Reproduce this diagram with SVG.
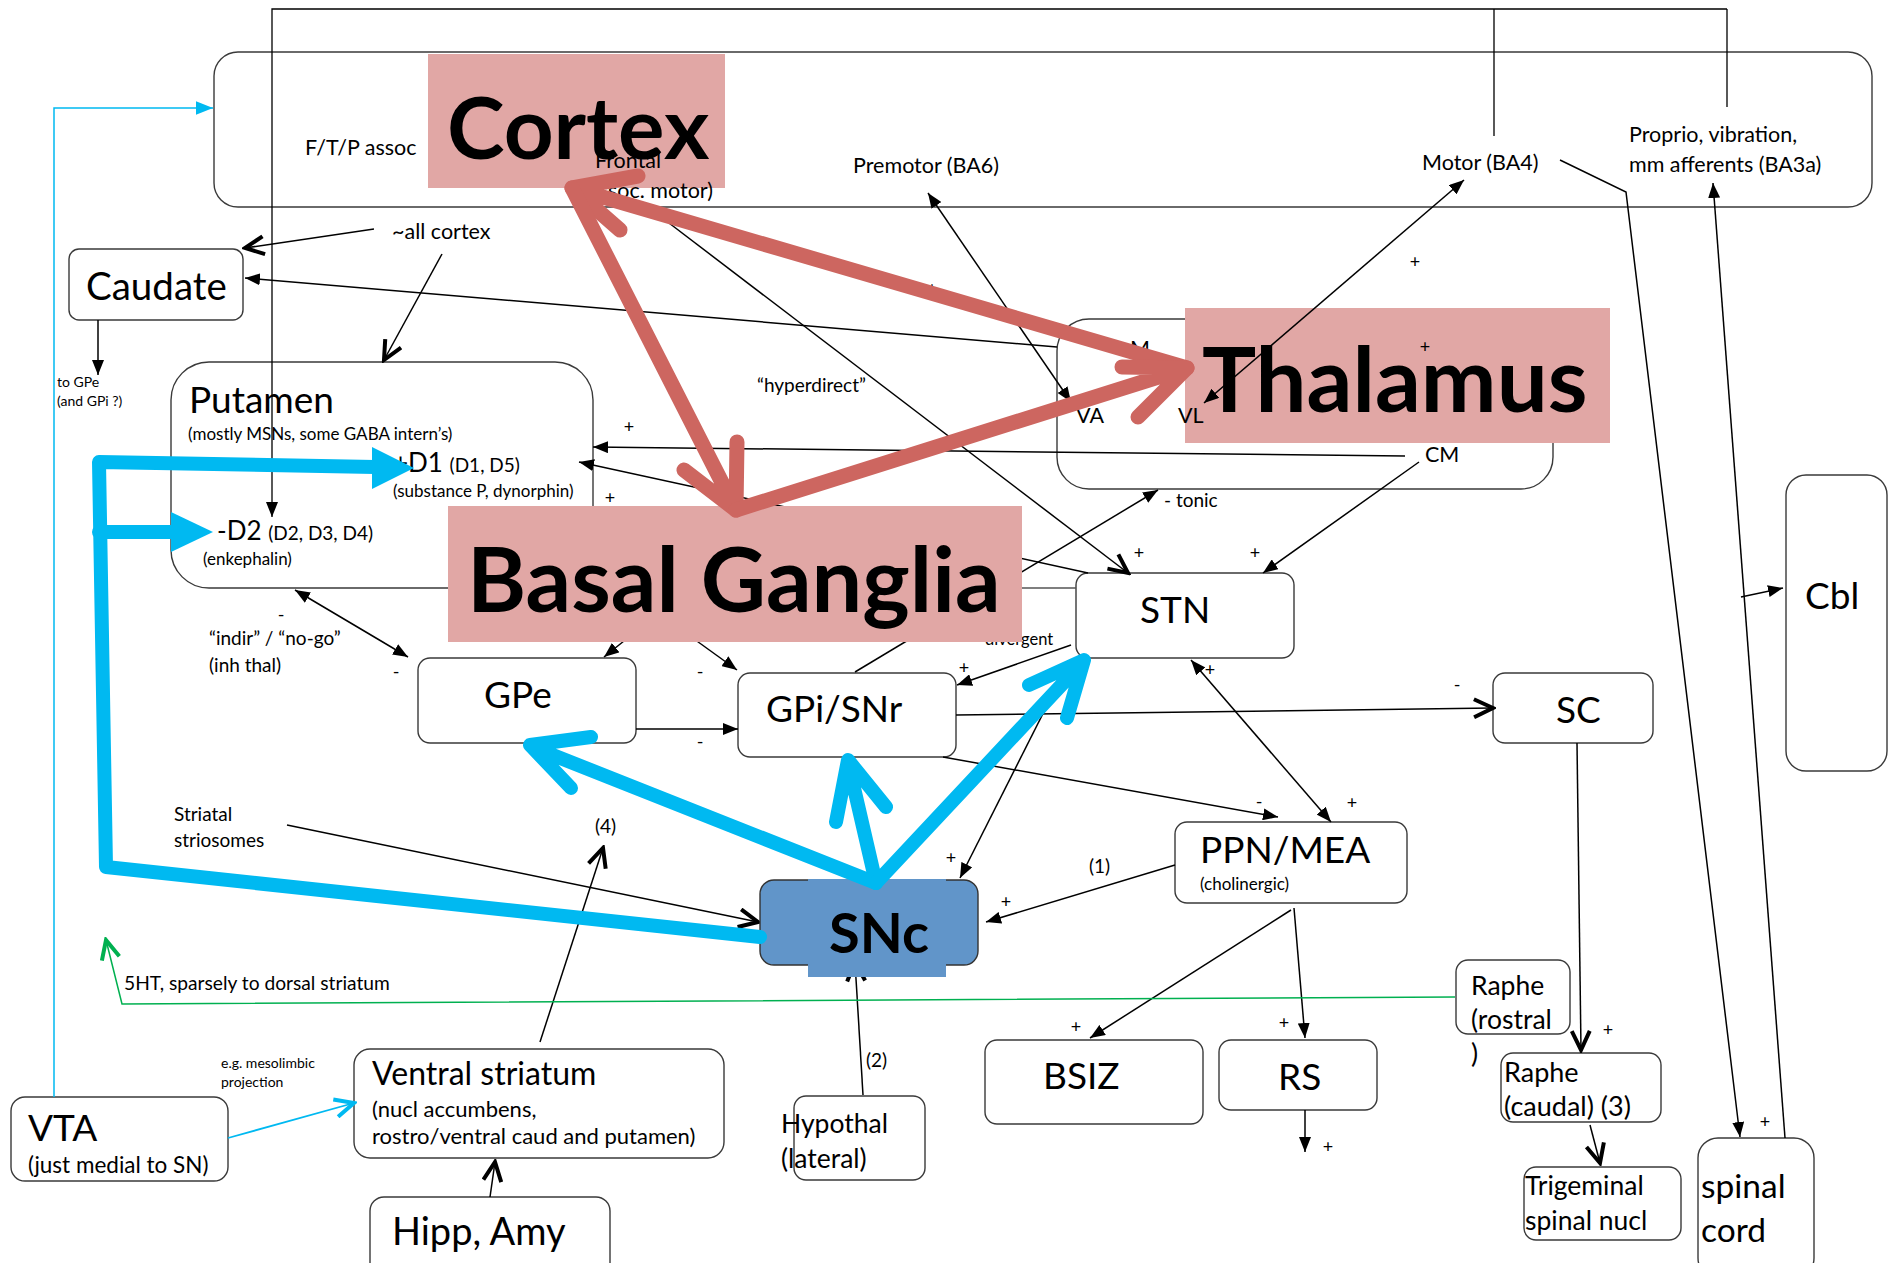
<svg xmlns="http://www.w3.org/2000/svg" width="1890" height="1263" viewBox="0 0 1890 1263">
<defs>
<style>
.box{fill:#fff;stroke:#3a3a3a;stroke-width:1.4}
.ln{fill:none;stroke:#000;stroke-width:1.5}
.t{font-family:Lato,'Liberation Sans',sans-serif;fill:#000}
.big{font-weight:bold}
.mid{font-size:37px}
.s21{font-size:21.5px}
.s19{font-size:19px}
.s16{font-size:17px}
.s14{font-size:14px}
.s26{font-size:26.5px}
.pm{font-family:Lato,'Liberation Sans',sans-serif;font-size:18px;text-anchor:middle}
.pink{fill:#E1A7A5}
.cy{fill:none;stroke:#00B9F1;stroke-width:14;stroke-linecap:round;stroke-linejoin:round}
.red{fill:none;stroke:#CD6660;stroke-width:15;stroke-linecap:round;stroke-linejoin:round}
</style>
<marker id="tri" viewBox="0 0 15 12" refX="15" refY="6" markerWidth="15" markerHeight="12" markerUnits="userSpaceOnUse" orient="auto-start-reverse"><path d="M0,0 L15,6 L0,12 z" fill="#000"/></marker>
<marker id="vee" viewBox="0 0 24 22" refX="21" refY="11" markerWidth="24" markerHeight="22" markerUnits="userSpaceOnUse" orient="auto"><path d="M2,2 L21,11 L2,20" fill="none" stroke="#000" stroke-width="4" stroke-linejoin="miter"/></marker>
<marker id="triC" viewBox="0 0 15 12" refX="15" refY="6" markerWidth="17" markerHeight="14" markerUnits="userSpaceOnUse" orient="auto"><path d="M0,0 L15,6 L0,12 z" fill="#00B9F1"/></marker>
<marker id="veeC" viewBox="0 0 24 22" refX="21" refY="11" markerWidth="24" markerHeight="22" markerUnits="userSpaceOnUse" orient="auto"><path d="M2,2 L21,11 L2,20" fill="none" stroke="#00B9F1" stroke-width="4"/></marker>
<marker id="veeG" viewBox="0 0 24 22" refX="21" refY="11" markerWidth="24" markerHeight="22" markerUnits="userSpaceOnUse" orient="auto"><path d="M2,2 L21,11 L2,20" fill="none" stroke="#00B050" stroke-width="4"/></marker>
</defs>
<rect width="1890" height="1263" fill="#fff"/>

<g id="cortex"><rect class="box" x="214" y="52" width="1658" height="155" rx="24"/></g>
<g id="caudate"><rect class="box" x="69" y="249" width="174" height="71" rx="10"/><text class="t" font-size="38.5" x="86" y="300">Caudate</text></g>
<g id="putamen"><rect class="box" x="171" y="362" width="422" height="226" rx="38"/>
<text class="t mid" x="189" y="413">Putamen</text>
<text class="t s16" x="188" y="440">(mostly MSNs, some GABA intern’s)</text>
<text class="t" x="393" y="472" font-size="26">+D1 <tspan font-size="19">(D1, D5)</tspan></text>
<text class="t s16" x="393" y="497">(substance P, dynorphin)</text>
<text class="t" x="217" y="540" font-size="26">-D2 <tspan font-size="19">(D2, D3, D4)</tspan></text>
<text class="t s16" x="203" y="565">(enkephalin)</text></g>
<g id="thalamus"><rect class="box" x="1057" y="319" width="496" height="170" rx="32"/></g>
<g id="gpe"><rect class="box" x="418" y="658" width="218" height="85" rx="12"/><text class="t mid" x="484" y="708">GPe</text></g>
<g id="gpi"><rect class="box" x="738" y="673" width="218" height="84" rx="12"/><text class="t mid" x="766" y="722">GPi/SNr</text></g>
<g id="stn"><rect class="box" x="1076" y="573" width="218" height="85" rx="12"/><text class="t mid" x="1140" y="623">STN</text></g>
<g id="sc"><rect class="box" x="1493" y="673" width="160" height="70" rx="12"/><text class="t mid" x="1556" y="723">SC</text></g>
<g id="cbl"><rect class="box" x="1786" y="475" width="101" height="296" rx="20"/><text class="t mid" x="1805" y="609">Cbl</text></g>
<g id="ppn"><rect class="box" x="1175" y="822" width="232" height="81" rx="12"/><text class="t mid" x="1200" y="863">PPN/MEA</text><text class="t s16" x="1200" y="890">(cholinergic)</text></g>
<g id="bsiz"><rect class="box" x="985" y="1040" width="218" height="84" rx="12"/><text class="t mid" x="1043" y="1089">BSIZ</text></g>
<g id="rs"><rect class="box" x="1219" y="1040" width="158" height="70" rx="12"/><text class="t mid" x="1278" y="1090">RS</text></g>
<g id="raphe-rostral"><rect class="box" x="1456" y="960" width="114" height="74" rx="12"/><text class="t s26" x="1471" y="995">Raphe</text><text class="t s26" x="1471" y="1029">(rostral</text><text class="t s26" x="1471" y="1063">)</text></g>
<g id="raphe-caudal"><rect class="box" x="1501" y="1053" width="160" height="69" rx="12"/><text class="t" font-size="27" x="1504" y="1082">Raphe</text><text class="t" font-size="27" x="1504" y="1116">(caudal) (3)</text></g>
<g id="trigeminal"><rect class="box" x="1524" y="1167" width="157" height="73" rx="12"/><text class="t s26" x="1525" y="1195">Trigeminal</text><text class="t s26" x="1525" y="1230">spinal nucl</text></g>
<g id="spinal-cord"><rect class="box" x="1698" y="1138" width="116" height="140" rx="20"/><text class="t" font-size="33.5" x="1701" y="1198">spinal</text><text class="t" font-size="33.5" x="1701" y="1242">cord</text></g>
<g id="hypothal"><rect class="box" x="794" y="1096" width="131" height="84" rx="12"/><text class="t s26" x="781" y="1133">Hypothal</text><text class="t s26" x="781" y="1168">(lateral)</text></g>
<g id="ventral-striatum"><rect class="box" x="354" y="1049" width="370" height="109" rx="16"/><text class="t" font-size="32" x="372" y="1085">Ventral striatum</text><text class="t" font-size="22" x="372" y="1117">(nucl accumbens,</text><text class="t" font-size="22" x="372" y="1144">rostro/ventral caud and putamen)</text></g>
<g id="vta"><rect class="box" x="11" y="1097" width="217" height="84" rx="14"/><text class="t mid" x="28" y="1141">VTA</text><text class="t" font-size="22.5" x="28" y="1173">(just medial to SN)</text></g>
<g id="hipp-amy"><rect class="box" x="370" y="1197" width="240" height="80" rx="14"/><text class="t" font-size="38" x="392" y="1245">Hipp, Amy</text></g>

<g id="connectors">
<path class="ln" style="stroke-width:1.3" d="M1494,136 V9 M1727,107 V9 M1727,9 H272 V517" marker-end="url(#tri)"/>
<path class="ln" d="M374,229 L245,248" marker-end="url(#vee)"/>
<path class="ln" d="M442,254 L384,360" marker-end="url(#vee)"/>
<path class="ln" d="M1057,347 L245,278" marker-end="url(#tri)"/>
<path class="ln" d="M98,320 V375" marker-end="url(#tri)"/>
<path fill="none" stroke="#00B9F1" stroke-width="1.5" d="M54,1097 V108 H213" marker-end="url(#triC)"/>
<path class="ln" d="M928,193 L1071,402" marker-start="url(#tri)" marker-end="url(#tri)"/>
<path class="ln" d="M669,223 L1128,573" marker-end="url(#vee)"/>
<path class="ln" d="M1405,456 L593,447" marker-end="url(#tri)"/>
<path class="ln" d="M1088,573 L579,462" marker-end="url(#tri)"/>
<path class="ln" d="M1419,462 L1263,573" marker-end="url(#tri)"/>
<path class="ln" d="M855,672 L1158,490" marker-end="url(#tri)"/>
<path class="ln" style="stroke:#555" d="M900,588 L1076,588"/>
<path class="ln" d="M700,580 L604,657" marker-end="url(#tri)"/>
<path class="ln" d="M640,600 L737,670" marker-end="url(#tri)"/>
<path class="ln" d="M1071,645 L957,685" marker-end="url(#tri)"/>
<path class="ln" d="M636,729 L738,729" marker-end="url(#tri)"/>
<path class="ln" d="M956,715 L1493,708" marker-end="url(#vee)"/>
<path class="ln" d="M943,757 L1278,817" marker-end="url(#tri)"/>
<path class="ln" d="M1191,660 L1331,822" marker-start="url(#tri)" marker-end="url(#tri)"/>
<path class="ln" d="M1070,660 L960,878" marker-end="url(#tri)"/>
<path class="ln" d="M295,590 L408,657" marker-start="url(#tri)" marker-end="url(#tri)"/>
<path class="ln" d="M287,825 L758,922" marker-end="url(#vee)"/>
<path class="ln" d="M540,1042 L603,848" marker-end="url(#vee)"/>
<path class="ln" d="M1175,865 L986,922" marker-end="url(#tri)"/>
<path class="ln" d="M863,1095 L855,962" marker-end="url(#vee)"/>
<path class="ln" d="M1291,910 L1090,1038" marker-end="url(#tri)"/>
<path class="ln" d="M1294,908 L1305,1038" marker-end="url(#tri)"/>
<path class="ln" d="M1305,1110 V1152" marker-end="url(#tri)"/>
<path class="ln" d="M1577,743 L1581,1050" marker-end="url(#vee)"/>
<path class="ln" d="M1590,1125 L1600,1163" marker-end="url(#vee)"/>
<path class="ln" d="M1560,160 L1626,192 L1740,1137" marker-end="url(#tri)"/>
<path class="ln" d="M1785,1138 L1713,183" marker-end="url(#tri)"/>
<path class="ln" d="M1741,597 L1783,588" marker-end="url(#tri)"/>
<path fill="none" stroke="#00B050" stroke-width="1.5" d="M1455,997 L122,1004 L106,940" marker-end="url(#veeG)"/>
<path fill="none" stroke="#00B9F1" stroke-width="1.8" d="M228,1138 L354,1103" marker-end="url(#veeC)"/>
<path class="ln" d="M490,1197 L495,1162" marker-end="url(#vee)"/>
</g>

<g id="labels">
<text class="t s21" x="305" y="155">F/T/P assoc</text>
<text class="t s21" x="392" y="239">~all cortex</text>
<text class="t s14" x="57" y="387">to GPe</text>
<text class="t s14" x="57" y="406">(and GPi ?)</text>
<text class="t s21" x="853" y="173">Premotor (BA6)</text>
<text class="t s21" x="1422" y="170">Motor (BA4)</text>
<text class="t s21" x="1629" y="142">Proprio, vibration,</text>
<text class="t s21" x="1629" y="172">mm afferents (BA3a)</text>
<text class="t s19" x="757" y="392">“hyperdirect”</text>
<text class="t s19" x="1164" y="507">- tonic</text>
<text class="t" font-size="16.5" x="985" y="645">divergent</text>
<text class="t s19" x="209" y="645">“indir” / “no-go”</text>
<text class="t s19" x="209" y="672">(inh thal)</text>
<text class="t s19" x="174" y="821">Striatal</text>
<text class="t s19" x="174" y="847">striosomes</text>
<text class="t s19" x="595" y="833">(4)</text>
<text class="t s19" x="1089" y="873">(1)</text>
<text class="t s19" x="866" y="1067">(2)</text>
<text class="t" font-size="19.2" x="124" y="990">5HT, sparsely to dorsal striatum</text>
<text class="t s14" x="221" y="1068">e.g. mesolimbic</text>
<text class="t s14" x="221" y="1087">projection</text>
<text class="pm" x="932" y="295">+</text>
<text class="pm" x="1415" y="268">+</text>
<text class="pm" x="629" y="433">+</text>
<text class="pm" x="610" y="504">+</text>
<text class="pm" x="1139" y="559">+</text>
<text class="pm" x="1255" y="559">+</text>
<text class="pm" x="964" y="674">+</text>
<text class="pm" x="1210" y="676">+</text>
<text class="pm" x="1352" y="809">+</text>
<text class="pm" x="1259" y="808">-</text>
<text class="pm" x="1457" y="691">-</text>
<text class="pm" x="700" y="678">-</text>
<text class="pm" x="700" y="748">-</text>
<text class="pm" x="281" y="621">-</text>
<text class="pm" x="396" y="678">-</text>
<text class="pm" x="951" y="864">+</text>
<text class="pm" x="1006" y="908">+</text>
<text class="pm" x="1076" y="1033">+</text>
<text class="pm" x="1284" y="1029">+</text>
<text class="pm" x="1328" y="1153">+</text>
<text class="pm" x="1608" y="1036">+</text>
<text class="pm" x="1765" y="1128">+</text>
</g>

<g id="region-labels">
<rect class="pink" x="428" y="54" width="297" height="134"/>
<text class="t big" x="447" y="159" style="font-size:87px">Cortex</text>
<rect class="pink" x="1185" y="308" width="425" height="135"/>
<text class="t big" x="1202" y="412" style="font-size:90.5px">Thalamus</text>
<rect class="pink" x="448" y="506" width="574" height="136"/>
<text class="t big" x="467" y="612" style="font-size:90px">Basal Ganglia</text>
<text class="t s21" x="595" y="168">Frontal</text>
<text class="t s21" x="713" y="198" text-anchor="end">(assoc. motor)</text>
<text class="t s21" x="1076" y="423">VA</text>
<text class="t s21" x="1178" y="423">VL</text>
<text class="t s21" x="1130" y="356">M</text>
<text class="t s21" x="1425" y="462">CM</text>
<text class="pm" x="1425" y="353">+</text>
<path class="ln" d="M1464,180 L1204,403" marker-start="url(#tri)" marker-end="url(#tri)"/>
</g>

<g id="snc">
<rect x="760" y="880" width="218" height="85" rx="14" fill="#6195C9" stroke="#333" stroke-width="1.4"/>
<rect x="808" y="879" width="138" height="98" fill="#6195C9"/>
<text class="t" font-weight="bold" font-size="56" x="829" y="953">SNc</text>
</g>

<g id="dopamine-arrows">
<path class="cy" d="M760,937 L106,867 L99,462 L375,467"/>
<polygon points="372,447 414,468 372,489" fill="#00B9F1"/>
<path class="cy" d="M99,532 L175,532"/>
<polygon points="171,512 213,532 171,552" fill="#00B9F1"/>
<path class="cy" d="M876,883 L535,748 M591,737 L530,745 L571,788"/>
<path class="cy" d="M876,883 L848,762 M836,822 L848,760 L886,807"/>
<path class="cy" d="M876,883 L1082,663 M1029,685 L1084,660 L1067,718"/>
</g>

<g id="loop-arrows">
<path class="red" d="M1187,368 L572,188 M638,176 L572,188 L620,230"/>
<path class="red" d="M572,188 L736,510 M737,442 L736,510 L684,470"/>
<path class="red" d="M736,510 L1187,368 M1122,367 L1187,368 L1138,417"/>
</g>
</svg>
